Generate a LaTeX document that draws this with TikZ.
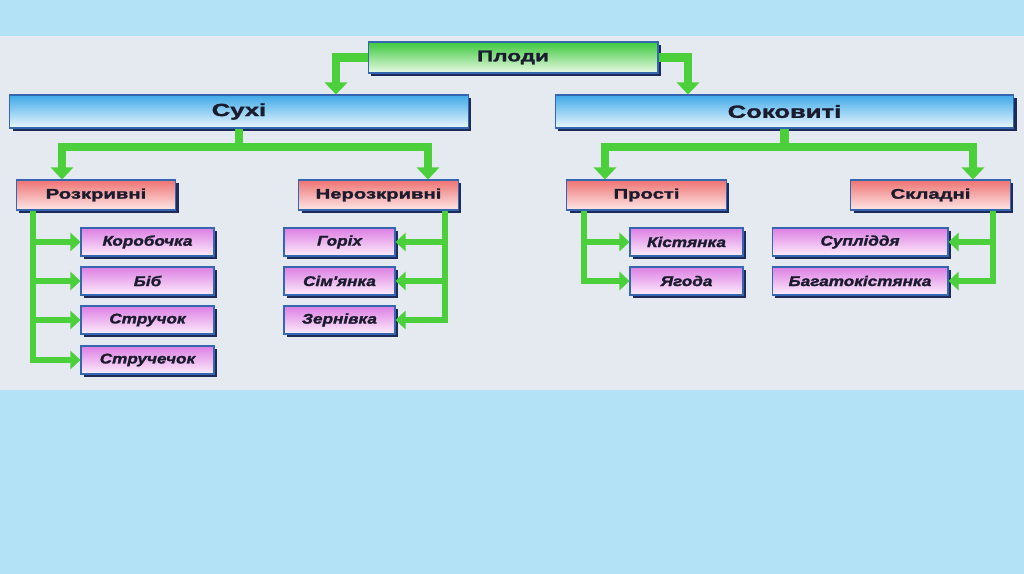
\documentclass[tikz,border=0pt]{standalone}
\usepackage{fontspec}
\setmainfont{Liberation Sans}
\newfontfamily\widesans[FakeStretch=1.46, FakeBold=1.8]{Liberation Sans Bold}
\newfontfamily\wideslant[FakeStretch=1.22, FakeBold=1.6]{Liberation Sans Bold Italic}
\usepackage{xcolor}
\usetikzlibrary{arrows.meta,shadows}
\definecolor{SkyBand}{HTML}{B3E1F6}
\definecolor{PanelGrey}{HTML}{E4EAF0}
\definecolor{FlowGreen}{HTML}{4BCF3A}
\definecolor{ShadowNavy}{HTML}{1E2B5A}
\definecolor{EdgeBlue}{HTML}{3467B0}
\definecolor{InkDark}{HTML}{1B1B2E}
\definecolor{RootGreen}{HTML}{3CC83C}
\definecolor{RootPale}{HTML}{EAF9E6}
\definecolor{ClassBlue}{HTML}{3FA9E8}
\definecolor{ClassPale}{HTML}{EAF7FD}
\definecolor{TypeRose}{HTML}{EE7373}
\definecolor{TypePale}{HTML}{FDE6E6}
\definecolor{KindOrchid}{HTML}{DC7FE2}
\definecolor{KindPale}{HTML}{FDEDFD}
\tikzset{
  flowline/.style={draw=FlowGreen, line width=4.6pt},
  flowarrow/.style={flowline, -{Triangle[length=0.24cm,width=0.44cm]}},
  brancharrow/.style={draw=FlowGreen, line width=3.8pt, -{Triangle[length=0.2cm,width=0.36cm]}},
  fruitbox/.style={draw=EdgeBlue, line width=0.6pt, inner sep=0pt, text=InkDark,
    drop shadow={shadow xshift=1.7pt, shadow yshift=-1.7pt, fill=ShadowNavy, opacity=1}}
}

\begin{document}
\begin{tikzpicture}[
  x=0.02cm, y=-0.02cm,
  rootbox/.style={fruitbox, top color=RootGreen, bottom color=RootPale, minimum width=5.8cm, minimum height=0.62cm, font=\widesans\fontsize{8.8}{10}\selectfont},
  classbox/.style={fruitbox, top color=ClassBlue, bottom color=ClassPale, minimum width=9.17cm, minimum height=0.66cm, font=\widesans\fontsize{10}{12}\selectfont},
  typebox/.style={fruitbox, top color=TypeRose, bottom color=TypePale, minimum width=3.19cm, minimum height=0.6cm, font=\widesans\fontsize{7.9}{9}\selectfont},
  kindbox/.style={fruitbox, top color=KindOrchid, bottom color=KindPale, minimum height=0.56cm, font=\wideslant\fontsize{8}{9}\selectfont}
]
\useasboundingbox (0,0) rectangle (1024,574);
\fill[SkyBand] (0,0) rectangle (1024,574);
\fill[PanelGrey] (0,36) rectangle (1024,390);

\node[rootbox] at (513,57.5) (plody) {Плоди};
\node[classbox] at (239,111.5) (sukhi) {Сухі};
\node[classbox] at (784.5,111.5) (sokovyti) {Соковиті};

\node[typebox] at (96,195) (rozkr) {Розкривні};
\node[typebox] at (378.5,195) (nerozkr) {Нерозкривні};
\node[typebox] at (646.5,195) (prosti) {Прості};
\node[typebox] at (930.5,195) (skladni) {Складні};

\node[kindbox, minimum width=2.66cm] at (147.5,242) (korob) {Коробочка};
\node[kindbox, minimum width=2.66cm] at (147.5,281) (bib) {Біб};
\node[kindbox, minimum width=2.66cm] at (147.5,320) (struchok) {Стручок};
\node[kindbox, minimum width=2.66cm] at (147.5,360) (struchechok) {Стручечок};
\node[kindbox, minimum width=2.22cm] at (339.5,242) (gorikh) {Горіх};
\node[kindbox, minimum width=2.22cm] at (339.5,281) (simyanka) {Сім'янка};
\node[kindbox, minimum width=2.22cm] at (339.5,320) (zernivka) {Зернівка};
\node[kindbox, minimum width=2.26cm] at (686.5,242) (kistyanka) {Кістянка};
\node[kindbox, minimum width=2.26cm] at (686.5,281) (yagoda) {Ягода};
\node[kindbox, minimum width=3.52cm] at (860,242) (suplid) {Супліддя};
\node[kindbox, minimum width=3.52cm] at (860,281) (bagato) {Багатокістянка};

\coordinate (dropL) at (336,0);
\coordinate (dropR) at (688,0);
\coordinate (bus) at (0,147);
\coordinate (landR) at (62,0);
\coordinate (landN) at (428,0);
\coordinate (landP) at (605,0);
\coordinate (landS) at (973,0);
\coordinate (trunkR) at (33,0);
\coordinate (trunkN) at (445,0);
\coordinate (trunkP) at (584,0);
\coordinate (trunkS) at (993,0);

\draw[flowarrow] (plody.west) -| (dropL |- sukhi.north);
\draw[flowarrow] (plody.east) -| (dropR |- sokovyti.north);

\draw[flowarrow] (sukhi.south) -- (sukhi.south |- bus) -| (landR |- rozkr.north);
\draw[flowarrow] (sukhi.south) -- (sukhi.south |- bus) -| (landN |- nerozkr.north);
\draw[flowarrow] (sokovyti.south) -- (sokovyti.south |- bus) -| (landP |- prosti.north);
\draw[flowarrow] (sokovyti.south) -- (sokovyti.south |- bus) -| (landS |- skladni.north);

\draw[brancharrow] (trunkR |- rozkr.south) |- (struchechok.west);
\foreach \kind in {korob,bib,struchok}
  \draw[brancharrow] (trunkR |- \kind.west) -- (\kind.west);
\draw[brancharrow] (trunkN |- nerozkr.south) |- (zernivka.east);
\foreach \kind in {gorikh,simyanka}
  \draw[brancharrow] (trunkN |- \kind.east) -- (\kind.east);
\draw[brancharrow] (trunkP |- prosti.south) |- (yagoda.west);
\draw[brancharrow] (trunkP |- kistyanka.west) -- (kistyanka.west);
\draw[brancharrow] (trunkS |- skladni.south) |- (bagato.east);
\draw[brancharrow] (trunkS |- suplid.east) -- (suplid.east);
\end{tikzpicture}
\end{document}
